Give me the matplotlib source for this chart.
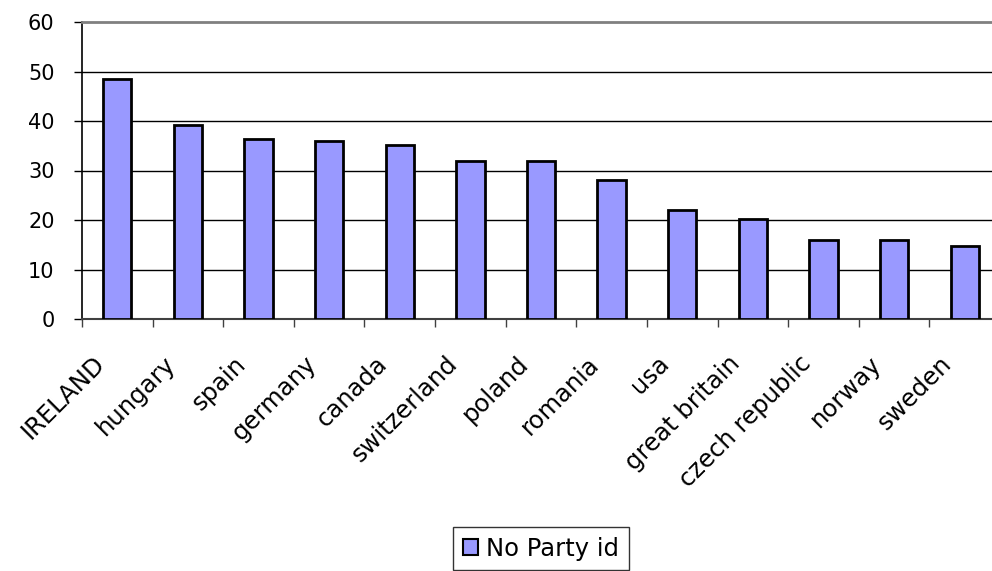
import matplotlib
matplotlib.use("Agg")
import matplotlib.pyplot as plt
import matplotlib.transforms as mtransforms
import numpy as np
from matplotlib.patches import Patch

countries = ["IRELAND", "hungary", "spain", "germany", "canada", "switzerland",
             "poland", "romania", "usa", "great britain", "czech republic",
             "norway", "sweden"]
values = [48.5, 39.1, 36.4, 36.0, 35.2, 32.0, 31.9, 28.1, 22.0, 20.3, 16.0, 16.0, 14.7]
yticks = [0, 10, 20, 30, 40, 50, 60]
series_name = "No Party id"

plt.rcParams['font.family'] = ['DejaVu Sans']
FS_X = 17.5
FS_Y = 15.0

fig = plt.figure(figsize=(9.92, 5.71), dpi=100)
ax = fig.add_axes([82/992, 1-319/571, (1000-82)/992, (319-22)/571])

x = np.arange(len(countries))
ax.bar(x, values, width=0.4, color="#9999FF", edgecolor="black", linewidth=2.0, zorder=3)

ax.set_xlim(-0.5, len(countries)-0.5)
ax.set_ylim(0, 60)
ax.set_yticks(yticks)
ax.set_yticklabels([str(v) for v in yticks], fontsize=FS_Y)
for v in yticks[1:-1]:
    ax.axhline(v, color="black", lw=1.0, zorder=1)

ax.set_xticks(x)
ax.set_xticklabels(countries, rotation=45, ha="right", va="top",
                   rotation_mode="anchor", fontsize=FS_X)
ax.tick_params(axis="x", which="major", length=0, pad=12)
offset = mtransforms.ScaledTranslation(-25/100, -16/100, fig.dpi_scale_trans)
for lab in ax.get_xticklabels():
    lab.set_transform(lab.get_transform() + offset)
ax.set_xticks(np.arange(len(countries)+1)-0.5, minor=True)
ax.tick_params(axis="x", which="minor", length=8/1.39, width=1.0, direction="out", color="#404040")
ax.tick_params(axis="y", length=8/1.39, width=1.0, direction="out", pad=14)

ax.spines["right"].set_visible(False)
ax.spines["top"].set_color("#808080")
ax.spines["top"].set_linewidth(2.0)
ax.spines["left"].set_color("black")
ax.spines["left"].set_linewidth(1.2)
ax.spines["bottom"].set_color("#404040")
ax.spines["bottom"].set_linewidth(1.5)

handles = [Patch(facecolor="#9999FF", edgecolor="black", linewidth=1.5, label=series_name)]
leg = fig.legend(handles=handles, loc="upper center", bbox_to_anchor=(541/992, 1-527/571),
                 fontsize=FS_X, frameon=True, fancybox=False, handlelength=0.62, handleheight=0.62,
                 handletextpad=0.33, borderpad=0.4, borderaxespad=0)
leg.get_frame().set_edgecolor("black")
leg.get_frame().set_linewidth(1.0)

fig.savefig("out.png", dpi=100)
